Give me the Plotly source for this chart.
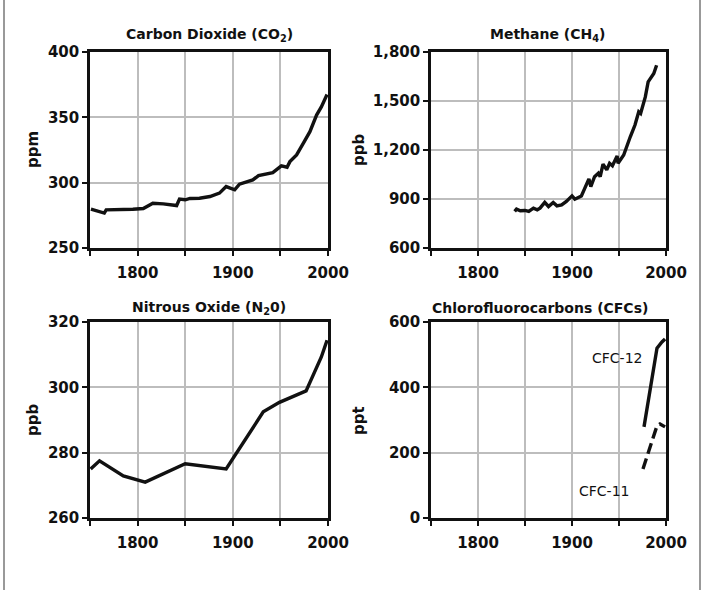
import plotly.graph_objects as go

# ---------------- data ----------------
co2_years = [1751, 1757, 1765, 1767, 1778, 1795, 1806, 1816, 1827, 1837, 1841, 1844, 1850, 1855,
             1865, 1876, 1886, 1893, 1902, 1907, 1916, 1921, 1927, 1935, 1942, 1951, 1957, 1960,
             1967, 1974, 1981, 1988, 1993, 1999]
co2_ppm = [279.7, 278.7, 276.7, 279.2, 279.2, 279.7, 280.2, 284.3, 283.8, 282.8, 282.5, 287.4, 286.9,
           287.9, 288.1, 289.4, 292.0, 297.0, 294.5, 298.8, 300.8, 302.1, 305.4, 306.7, 307.7, 312.8,
           311.8, 316.1, 321.2, 330.1, 339.0, 351.7, 358.0, 367.5]

ch4_years = [1839, 1841, 1845, 1850, 1854, 1859, 1863, 1866, 1871, 1875, 1880, 1884, 1889, 1894,
             1900, 1903, 1910, 1914, 1918, 1920, 1924, 1928, 1930, 1933, 1937, 1940, 1943, 1948,
             1949, 1955, 1958, 1962, 1967, 1971, 1973, 1978, 1981, 1987, 1990]
ch4_ppb = [824, 838, 828, 830, 824, 844, 834, 844, 879, 854, 879, 858, 864, 885,
           919, 899, 919, 966, 1023, 976, 1037, 1058, 1037, 1113, 1078, 1119, 1104, 1163,
           1119, 1169, 1220, 1281, 1353, 1434, 1424, 1525, 1617, 1668, 1719]

n2o_years = [1750.7, 1760, 1785, 1808, 1850, 1893, 1932, 1949, 1977, 1984, 1993, 1999]
n2o_ppb = [275.0, 277.5, 272.9, 271.0, 276.6, 275.0, 292.5, 295.4, 298.9, 303.7, 309.3, 314.4]

cfc12_years = [1976.6, 1987.2, 1990.4, 1995.7, 1999]
cfc12_ppt = [279, 474, 520, 539, 548]
cfc11_years = [1975.5, 1990.4, 1993.6, 1999]
cfc11_ppt = [150, 282, 288, 279]

titles = ["Carbon Dioxide (CO<sub>2</sub>)", "Methane (CH<sub>4</sub>)",
          "Nitrous Oxide (N<sub>2</sub>0)", "Chlorofluorocarbons (CFCs)"]
units = ["ppm", "ppb", "ppb", "ppt"]
x_tickvals = [1800, 1900, 2000]
x_ticktext = ["1800", "1900", "2000"]
y_ranges = [[250, 400], [600, 1800], [260, 320], [0, 600]]
y_dticks = [50, 300, 20, 200]
cfc_labels = ["CFC-12", "CFC-11"]
cfc_label_x = [1948, 1934]
cfc_label_y = [490, 83]

# ---------------- layout geometry ----------------
W, H = 704, 590
xdom = [[90 / W, 328 / W], [431 / W, 666 / W]]
ydom = [[1 - 248 / H, 1 - 52 / H], [1 - 518 / H, 1 - 322 / H]]

FONT = "DejaVu Sans"
INK = "#111111"
GRID = "#bdbdbd"
fig = go.Figure()

series = [
    (1, co2_years, co2_ppm, "solid"),
    (2, ch4_years, ch4_ppb, "solid"),
    (3, n2o_years, n2o_ppb, "solid"),
    (4, cfc12_years, cfc12_ppt, "solid"),
    (4, cfc11_years, cfc11_ppt, "11px,5px"),
]
for idx, xs, ys, dash in series:
    sfx = "" if idx == 1 else str(idx)
    fig.add_trace(go.Scatter(x=xs, y=ys, mode="lines", xaxis="x" + sfx, yaxis="y" + sfx,
                             line=dict(color=INK, width=3.4, dash=dash),
                             showlegend=False, hoverinfo="skip"))

axes = {}
for i in range(4):
    col = i % 2
    row = i // 2
    sfx = "" if i == 0 else str(i + 1)
    axes["xaxis" + sfx] = dict(
        domain=xdom[col], anchor="y" + sfx, range=[1750, 2000],
        tickvals=x_tickvals, ticktext=x_ticktext,
        showgrid=True, gridcolor=GRID, gridwidth=2,
        showline=True, linecolor=INK, linewidth=2.5, mirror=True,
        ticks="outside", ticklen=5, tickwidth=2, tickcolor=INK,
        minor=dict(tick0=1750, dtick=50, ticks="outside", ticklen=5, tickwidth=2, tickcolor=INK,
                   showgrid=True, gridcolor=GRID, gridwidth=2),
        ticklabelstandoff=4, zeroline=False, automargin=False,
        tickfont=dict(family=FONT, size=15, color=INK, weight="bold"),
    )
    axes["yaxis" + sfx] = dict(
        domain=ydom[row], anchor="x" + sfx, range=y_ranges[i], dtick=y_dticks[i],
        tick0=y_ranges[i][0], tickformat=",",
        showgrid=True, gridcolor=GRID, gridwidth=2,
        showline=True, linecolor=INK, linewidth=2.5, mirror=True,
        ticks="outside", ticklen=5, tickwidth=2, tickcolor=INK,
        zeroline=False, automargin=False,
        tickfont=dict(family=FONT, size=15, color=INK, weight="bold"),
    )

annotations = []
title_pos = [(209, 35), (548, 35), (209, 308), (540, 308)]
ylab_pos = [(33, 150), (359, 150), (33, 420), (359, 420)]
for i in range(4):
    tx, ty = title_pos[i]
    annotations.append(dict(x=tx / W, y=1 - ty / H, xref="paper", yref="paper", text=titles[i],
                            showarrow=False, xanchor="center", yanchor="middle",
                            font=dict(family=FONT, size=14, color=INK, weight="bold")))
    lx, ly = ylab_pos[i]
    annotations.append(dict(x=lx / W, y=1 - ly / H, xref="paper", yref="paper", text=units[i],
                            showarrow=False, textangle=-90, xanchor="center", yanchor="middle",
                            font=dict(family=FONT, size=15, color=INK, weight="bold")))

for lab, lx, ly in zip(cfc_labels, cfc_label_x, cfc_label_y):
    annotations.append(dict(x=lx, y=ly, xref="x4", yref="y4", text=lab, showarrow=False,
                            xanchor="center", yanchor="middle",
                            font=dict(family=FONT, size=14, color=INK)))

shapes = [
    dict(type="line", xref="paper", yref="paper", x0=4 / W, x1=4 / W, y0=0, y1=1,
         line=dict(color="#777777", width=1.5)),
    dict(type="line", xref="paper", yref="paper", x0=700 / W, x1=700 / W, y0=0, y1=1,
         line=dict(color="#777777", width=1.5)),
]

fig.update_layout(
    width=W, height=H, margin=dict(l=0, r=0, t=0, b=0, autoexpand=False),
    paper_bgcolor="white", plot_bgcolor="white",
    annotations=annotations, shapes=shapes, showlegend=False,
    **axes,
)

fig.write_html("out.html")
